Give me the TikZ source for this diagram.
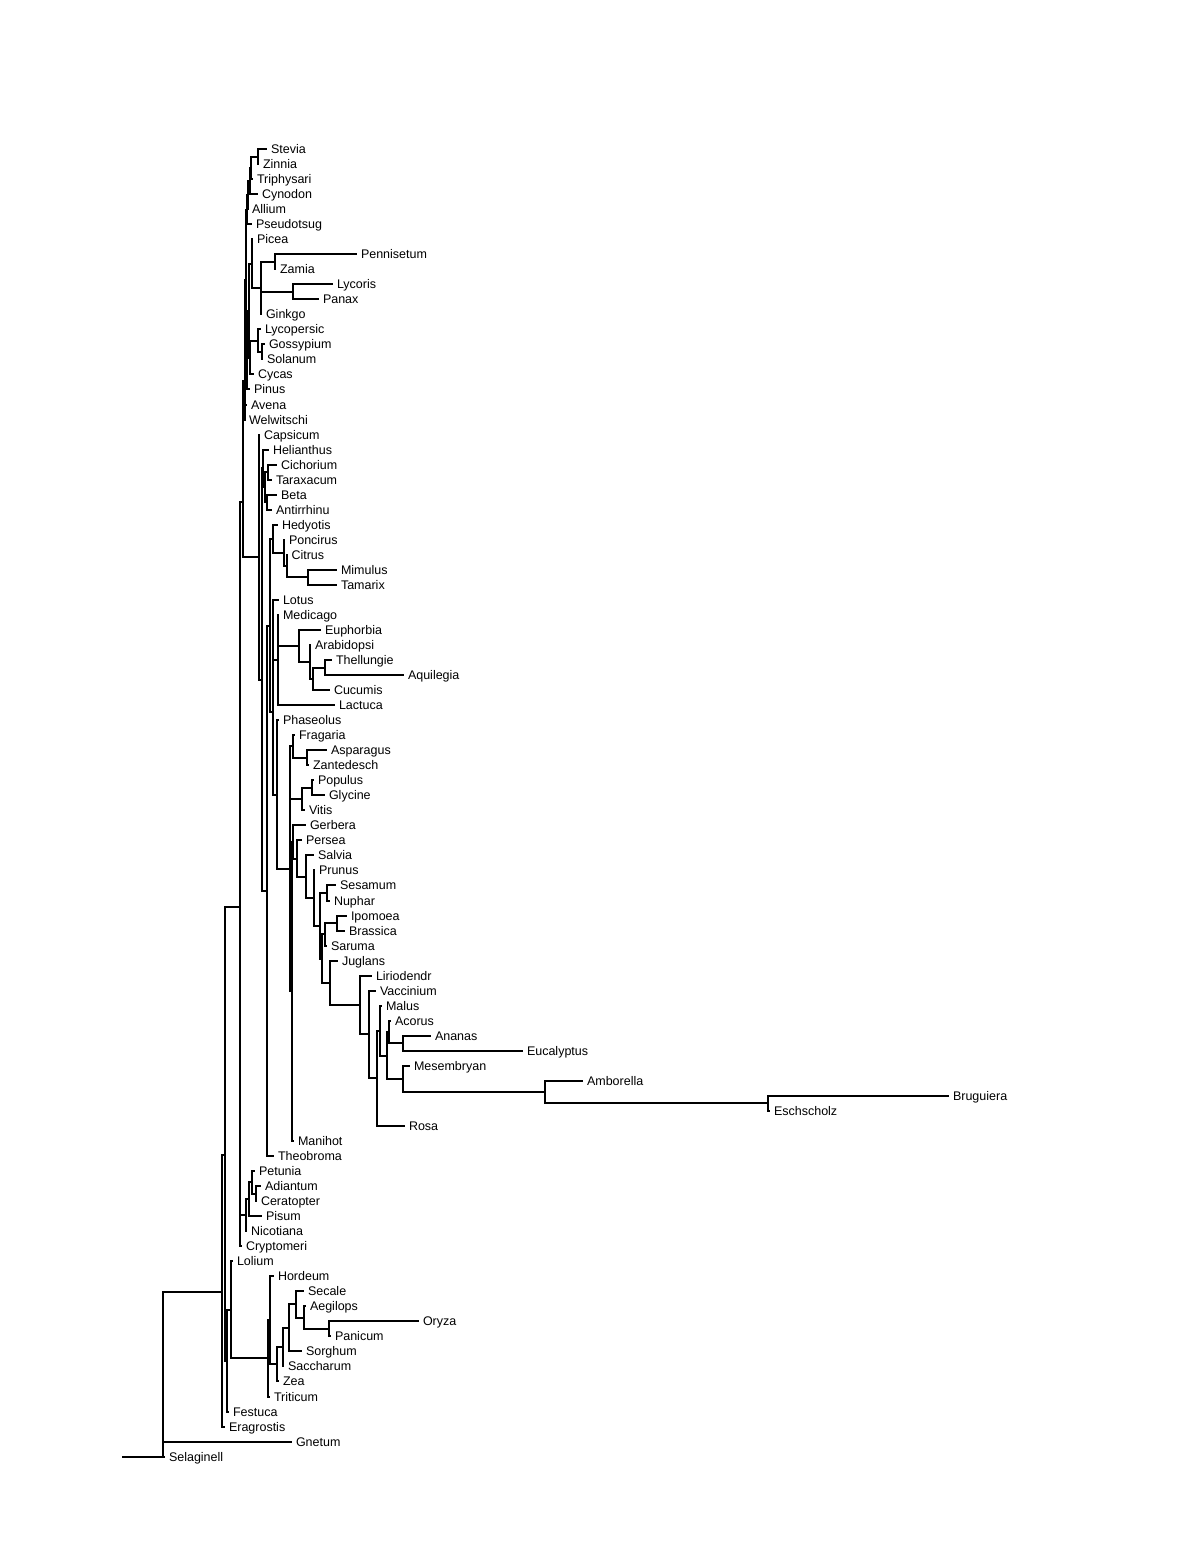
\documentclass[tikz,border=0pt]{standalone}
\usepackage{fontspec}
\setmainfont{Liberation Sans}
\begin{document}
\begin{tikzpicture}[x=0.6pt,y=-9.018pt,
  leaf/.style={anchor=west,inner xsep=2.2pt,inner ysep=0pt,text height=5.4pt,text depth=0pt,font=\fontsize{7.5pt}{9pt}\selectfont},
  br/.style={draw=black,line width=1.2pt}]
\useasboundingbox (0,-9.9135) rectangle (1200,93.413);
% leaves
\node[leaf] (Stevia) at (267,0) {Stevia};
\node[leaf] (Zinnia) at (259,1) {Zinnia};
\node[leaf] (Triphysari) at (253,2) {Triphysari};
\node[leaf] (Cynodon) at (258,3) {Cynodon};
\node[leaf] (Allium) at (248,4) {Allium};
\node[leaf] (Pseudotsug) at (252,5) {Pseudotsug};
\node[leaf] (Picea) at (253,6) {Picea};
\node[leaf] (Pennisetum) at (357,7) {Pennisetum};
\node[leaf] (Zamia) at (276,8) {Zamia};
\node[leaf] (Lycoris) at (333,9) {Lycoris};
\node[leaf] (Panax) at (319,10) {Panax};
\node[leaf] (Ginkgo) at (262,11) {Ginkgo};
\node[leaf] (Lycopersic) at (261,12) {Lycopersic};
\node[leaf] (Gossypium) at (265,13) {Gossypium};
\node[leaf] (Solanum) at (263,14) {Solanum};
\node[leaf] (Cycas) at (254,15) {Cycas};
\node[leaf] (Pinus) at (250,16) {Pinus};
\node[leaf] (Avena) at (247,17) {Avena};
\node[leaf] (Welwitschi) at (245,18) {Welwitschi};
\node[leaf] (Capsicum) at (260,19) {Capsicum};
\node[leaf] (Helianthus) at (269,20) {Helianthus};
\node[leaf] (Cichorium) at (277,21) {Cichorium};
\node[leaf] (Taraxacum) at (272,22) {Taraxacum};
\node[leaf] (Beta) at (277,23) {Beta};
\node[leaf] (Antirrhinu) at (272,24) {Antirrhinu};
\node[leaf] (Hedyotis) at (278,25) {Hedyotis};
\node[leaf] (Poncirus) at (285,26) {Poncirus};
\node[leaf] (Citrus) at (287.5,27) {Citrus};
\node[leaf] (Mimulus) at (337,28) {Mimulus};
\node[leaf] (Tamarix) at (337,29) {Tamarix};
\node[leaf] (Lotus) at (279,30) {Lotus};
\node[leaf] (Medicago) at (279,31) {Medicago};
\node[leaf] (Euphorbia) at (321,32) {Euphorbia};
\node[leaf] (Arabidopsi) at (311,33) {Arabidopsi};
\node[leaf] (Thellungie) at (332,34) {Thellungie};
\node[leaf] (Aquilegia) at (404,35) {Aquilegia};
\node[leaf] (Cucumis) at (330,36) {Cucumis};
\node[leaf] (Lactuca) at (335,37) {Lactuca};
\node[leaf] (Phaseolus) at (279,38) {Phaseolus};
\node[leaf] (Fragaria) at (295,39) {Fragaria};
\node[leaf] (Asparagus) at (327,40) {Asparagus};
\node[leaf] (Zantedesch) at (309,41) {Zantedesch};
\node[leaf] (Populus) at (314,42) {Populus};
\node[leaf] (Glycine) at (325,43) {Glycine};
\node[leaf] (Vitis) at (305,44) {Vitis};
\node[leaf] (Gerbera) at (306,45) {Gerbera};
\node[leaf] (Persea) at (302,46) {Persea};
\node[leaf] (Salvia) at (314,47) {Salvia};
\node[leaf] (Prunus) at (315,48) {Prunus};
\node[leaf] (Sesamum) at (336,49) {Sesamum};
\node[leaf] (Nuphar) at (330,50) {Nuphar};
\node[leaf] (Ipomoea) at (347,51) {Ipomoea};
\node[leaf] (Brassica) at (345,52) {Brassica};
\node[leaf] (Saruma) at (327,53) {Saruma};
\node[leaf] (Juglans) at (338,54) {Juglans};
\node[leaf] (Liriodendr) at (372,55) {Liriodendr};
\node[leaf] (Vaccinium) at (376,56) {Vaccinium};
\node[leaf] (Malus) at (382,57) {Malus};
\node[leaf] (Acorus) at (391,58) {Acorus};
\node[leaf] (Ananas) at (431,59) {Ananas};
\node[leaf] (Eucalyptus) at (523,60) {Eucalyptus};
\node[leaf] (Mesembryan) at (410,61) {Mesembryan};
\node[leaf] (Amborella) at (583,62) {Amborella};
\node[leaf] (Bruguiera) at (949,63) {Bruguiera};
\node[leaf] (Eschscholz) at (770,64) {Eschscholz};
\node[leaf] (Rosa) at (405,65) {Rosa};
\node[leaf] (Manihot) at (294,66) {Manihot};
\node[leaf] (Theobroma) at (274,67) {Theobroma};
\node[leaf] (Petunia) at (255,68) {Petunia};
\node[leaf] (Adiantum) at (261,69) {Adiantum};
\node[leaf] (Ceratopter) at (257,70) {Ceratopter};
\node[leaf] (Pisum) at (262,71) {Pisum};
\node[leaf] (Nicotiana) at (247,72) {Nicotiana};
\node[leaf] (Cryptomeri) at (242,73) {Cryptomeri};
\node[leaf] (Lolium) at (233,74) {Lolium};
\node[leaf] (Hordeum) at (274,75) {Hordeum};
\node[leaf] (Secale) at (304,76) {Secale};
\node[leaf] (Aegilops) at (306,77) {Aegilops};
\node[leaf] (Oryza) at (419,78) {Oryza};
\node[leaf] (Panicum) at (331,79) {Panicum};
\node[leaf] (Sorghum) at (302,80) {Sorghum};
\node[leaf] (Saccharum) at (284,81) {Saccharum};
\node[leaf] (Zea) at (279,82) {Zea};
\node[leaf] (Triticum) at (270,83) {Triticum};
\node[leaf] (Festuca) at (229,84) {Festuca};
\node[leaf] (Eragrostis) at (225,85) {Eragrostis};
\node[leaf] (Gnetum) at (292,86) {Gnetum};
\node[leaf] (Selaginell) at (165,87) {Selaginell};
% internal nodes
\coordinate (a1) at (258,0.5);
\coordinate (a2) at (251,1.25);
\coordinate (a3) at (249.5,2.125);
\coordinate (a4) at (247.5,3.0625);
\coordinate (a5) at (246.8,4.031);
\coordinate (z1) at (275,7.5);
\coordinate (lp) at (293,9.5);
\coordinate (zz) at (260.5,9.25);
\coordinate (b2) at (252,7.625);
\coordinate (g1) at (261.5,13.5);
\coordinate (l1) at (258,12.75);
\coordinate (b1) at (250,13.875);
\coordinate (b3) at (249,10.75);
\coordinate (b4) at (247,13.375);
\coordinate (b5) at (246,8.703);
\coordinate (b6) at (245.3,12.852);
\coordinate (U) at (244.5,15.426);
\coordinate (c1) at (268,21.5);
\coordinate (c2) at (267,23.5);
\coordinate (c3) at (265,22.5);
\coordinate (c4) at (263,21.25);
\coordinate (m1) at (308,28.5);
\coordinate (m2) at (286.5,27.75);
\coordinate (m3) at (284,26.875);
\coordinate (m4) at (273,25.9375);
\coordinate (t1) at (325,34.5);
\coordinate (t2) at (313,35.25);
\coordinate (t3) at (310,34.125);
\coordinate (t4) at (299,33.0625);
\coordinate (t5) at (278,34);
\coordinate (t6) at (273,32);
\coordinate (f1) at (307,40.5);
\coordinate (f2) at (293,39.75);
\coordinate (v1) at (312,42.5);
\coordinate (v2) at (302,43.25);
\coordinate (sn) at (327,49.5);
\coordinate (ib) at (337,51.5);
\coordinate (sa) at (325,52.25);
\coordinate (AE) at (403,59.5);
\coordinate (ac1) at (389,58.75);
\coordinate (be) at (768,63.5);
\coordinate (am) at (545,62.75);
\coordinate (me) at (403,61.875);
\coordinate (n1) at (387,60.3125);
\coordinate (mal) at (380,58.656);
\coordinate (r1) at (377,61.828);
\coordinate (va) at (369,58.914);
\coordinate (li) at (360,56.957);
\coordinate (ju) at (330,55.479);
\coordinate (q1) at (322,53.864);
\coordinate (q2) at (320,51.682);
\coordinate (q3) at (314,49.841);
\coordinate (q4) at (306,48.420);
\coordinate (q5) at (297,47.210);
\coordinate (q6) at (293,46.105);
\coordinate (q7) at (291.5,56.053);
\coordinate (q8) at (289.5,47.901);
\coordinate (ph) at (277,42.95);
\coordinate (k1) at (272.5,37.475);
\coordinate (k2) at (270,31.706);
\coordinate (k3) at (267,49.353);
\coordinate (k4) at (262,35.30);
\coordinate (k5) at (259,27.15);
\coordinate (ac) at (256,69.5);
\coordinate (pe) at (252,68.75);
\coordinate (pi) at (249,69.875);
\coordinate (ni) at (246,70.9375);
\coordinate (W1) at (243,23.5);
\coordinate (N3) at (240,50.4);
\coordinate (op) at (329,78.5);
\coordinate (ag) at (304,77.75);
\coordinate (se) at (296,76.875);
\coordinate (so) at (289,78.4375);
\coordinate (sc) at (283,79.719);
\coordinate (ze) at (277,80.859);
\coordinate (hz) at (270,77.930);
\coordinate (tr) at (268,80.465);
\coordinate (lo) at (231,77.232);
\coordinate (fe) at (227,80.616);
\coordinate (N2) at (225,66.9);
\coordinate (N1) at (222,76.05);
\coordinate (N0) at (163,80.72);
\coordinate (root) at (122,87);
% branches
\draw[br] (a1) |- (Stevia.west); \draw[br] (a1) |- (Zinnia.west);
\draw[br] (a2) |- (a1); \draw[br] (a2) |- (Triphysari.west);
\draw[br] (a3) |- (a2); \draw[br] (a3) |- (Cynodon.west);
\draw[br] (a4) |- (a3); \draw[br] (a4) |- (Allium.west);
\draw[br] (a5) |- (a4); \draw[br] (a5) |- (Pseudotsug.west);
\draw[br] (z1) |- (Pennisetum.west); \draw[br] (z1) |- (Zamia.west);
\draw[br] (lp) |- (Lycoris.west); \draw[br] (lp) |- (Panax.west);
\draw[br] (zz) |- (z1); \draw[br] (zz) |- (lp); \draw[br] (zz) |- (Ginkgo.west);
\draw[br] (b2) |- (Picea.west); \draw[br] (b2) |- (zz);
\draw[br] (g1) |- (Gossypium.west); \draw[br] (g1) |- (Solanum.west);
\draw[br] (l1) |- (Lycopersic.west); \draw[br] (l1) |- (g1);
\draw[br] (b1) |- (l1); \draw[br] (b1) |- (Cycas.west);
\draw[br] (b3) |- (b2); \draw[br] (b3) |- (b1);
\draw[br] (b4) |- (b3); \draw[br] (b4) |- (Pinus.west);
\draw[br] (b5) |- (a5); \draw[br] (b5) |- (b4);
\draw[br] (b6) |- (b5); \draw[br] (b6) |- (Avena.west);
\draw[br] (U) |- (b6); \draw[br] (U) |- (Welwitschi.west);
\draw[br] (c1) |- (Cichorium.west); \draw[br] (c1) |- (Taraxacum.west);
\draw[br] (c2) |- (Beta.west); \draw[br] (c2) |- (Antirrhinu.west);
\draw[br] (c3) |- (c1); \draw[br] (c3) |- (c2);
\draw[br] (c4) |- (Helianthus.west); \draw[br] (c4) |- (c3);
\draw[br] (m1) |- (Mimulus.west); \draw[br] (m1) |- (Tamarix.west);
\draw[br] (m2) |- (Citrus.west); \draw[br] (m2) |- (m1);
\draw[br] (m3) |- (Poncirus.west); \draw[br] (m3) |- (m2);
\draw[br] (m4) |- (Hedyotis.west); \draw[br] (m4) |- (m3);
\draw[br] (t1) |- (Thellungie.west); \draw[br] (t1) |- (Aquilegia.west);
\draw[br] (t2) |- (t1); \draw[br] (t2) |- (Cucumis.west);
\draw[br] (t3) |- (Arabidopsi.west); \draw[br] (t3) |- (t2);
\draw[br] (t4) |- (Euphorbia.west); \draw[br] (t4) |- (t3);
\draw[br] (t5) |- (Medicago.west); \draw[br] (t5) |- (t4); \draw[br] (t5) |- (Lactuca.west);
\draw[br] (t6) |- (Lotus.west); \draw[br] (t6) |- (t5);
\draw[br] (f1) |- (Asparagus.west); \draw[br] (f1) |- (Zantedesch.west);
\draw[br] (f2) |- (Fragaria.west); \draw[br] (f2) |- (f1);
\draw[br] (v1) |- (Populus.west); \draw[br] (v1) |- (Glycine.west);
\draw[br] (v2) |- (v1); \draw[br] (v2) |- (Vitis.west);
\draw[br] (sn) |- (Sesamum.west); \draw[br] (sn) |- (Nuphar.west);
\draw[br] (ib) |- (Ipomoea.west); \draw[br] (ib) |- (Brassica.west);
\draw[br] (sa) |- (ib); \draw[br] (sa) |- (Saruma.west);
\draw[br] (AE) |- (Ananas.west); \draw[br] (AE) |- (Eucalyptus.west);
\draw[br] (ac1) |- (Acorus.west); \draw[br] (ac1) |- (AE);
\draw[br] (be) |- (Bruguiera.west); \draw[br] (be) |- (Eschscholz.west);
\draw[br] (am) |- (Amborella.west); \draw[br] (am) |- (be);
\draw[br] (me) |- (Mesembryan.west); \draw[br] (me) |- (am);
\draw[br] (n1) |- (ac1); \draw[br] (n1) |- (me);
\draw[br] (mal) |- (Malus.west); \draw[br] (mal) |- (n1);
\draw[br] (r1) |- (mal); \draw[br] (r1) |- (Rosa.west);
\draw[br] (va) |- (Vaccinium.west); \draw[br] (va) |- (r1);
\draw[br] (li) |- (Liriodendr.west); \draw[br] (li) |- (va);
\draw[br] (ju) |- (Juglans.west); \draw[br] (ju) |- (li);
\draw[br] (q1) |- (sa); \draw[br] (q1) |- (ju);
\draw[br] (q2) |- (sn); \draw[br] (q2) |- (q1);
\draw[br] (q3) |- (Prunus.west); \draw[br] (q3) |- (q2);
\draw[br] (q4) |- (Salvia.west); \draw[br] (q4) |- (q3);
\draw[br] (q5) |- (Persea.west); \draw[br] (q5) |- (q4);
\draw[br] (q6) |- (Gerbera.west); \draw[br] (q6) |- (q5);
\draw[br] (q7) |- (q6); \draw[br] (q7) |- (Manihot.west);
\draw[br] (q8) |- (f2); \draw[br] (q8) |- (v2); \draw[br] (q8) |- (q7);
\draw[br] (ph) |- (Phaseolus.west); \draw[br] (ph) |- (q8);
\draw[br] (k1) |- (t6); \draw[br] (k1) |- (ph);
\draw[br] (k2) |- (m4); \draw[br] (k2) |- (k1);
\draw[br] (k3) |- (k2); \draw[br] (k3) |- (Theobroma.west);
\draw[br] (k4) |- (c4); \draw[br] (k4) |- (k3);
\draw[br] (k5) |- (Capsicum.west); \draw[br] (k5) |- (k4);
\draw[br] (ac) |- (Adiantum.west); \draw[br] (ac) |- (Ceratopter.west);
\draw[br] (pe) |- (Petunia.west); \draw[br] (pe) |- (ac);
\draw[br] (pi) |- (pe); \draw[br] (pi) |- (Pisum.west);
\draw[br] (ni) |- (pi); \draw[br] (ni) |- (Nicotiana.west);
\draw[br] (W1) |- (U); \draw[br] (W1) |- (k5);
\draw[br] (N3) |- (W1); \draw[br] (N3) |- (ni); \draw[br] (N3) |- (Cryptomeri.west);
\draw[br] (op) |- (Oryza.west); \draw[br] (op) |- (Panicum.west);
\draw[br] (ag) |- (Aegilops.west); \draw[br] (ag) |- (op);
\draw[br] (se) |- (Secale.west); \draw[br] (se) |- (ag);
\draw[br] (so) |- (se); \draw[br] (so) |- (Sorghum.west);
\draw[br] (sc) |- (so); \draw[br] (sc) |- (Saccharum.west);
\draw[br] (ze) |- (sc); \draw[br] (ze) |- (Zea.west);
\draw[br] (hz) |- (Hordeum.west); \draw[br] (hz) |- (ze);
\draw[br] (tr) |- (hz); \draw[br] (tr) |- (Triticum.west);
\draw[br] (lo) |- (Lolium.west); \draw[br] (lo) |- (tr);
\draw[br] (fe) |- (lo); \draw[br] (fe) |- (Festuca.west);
\draw[br] (N2) |- (N3); \draw[br] (N2) |- (fe);
\draw[br] (N1) |- (N2); \draw[br] (N1) |- (Eragrostis.west);
\draw[br] (N0) |- (N1); \draw[br] (N0) |- (Gnetum.west); \draw[br] (N0) |- (Selaginell.west);
\draw[br] (root) -| (N0);
\end{tikzpicture}
\end{document}
